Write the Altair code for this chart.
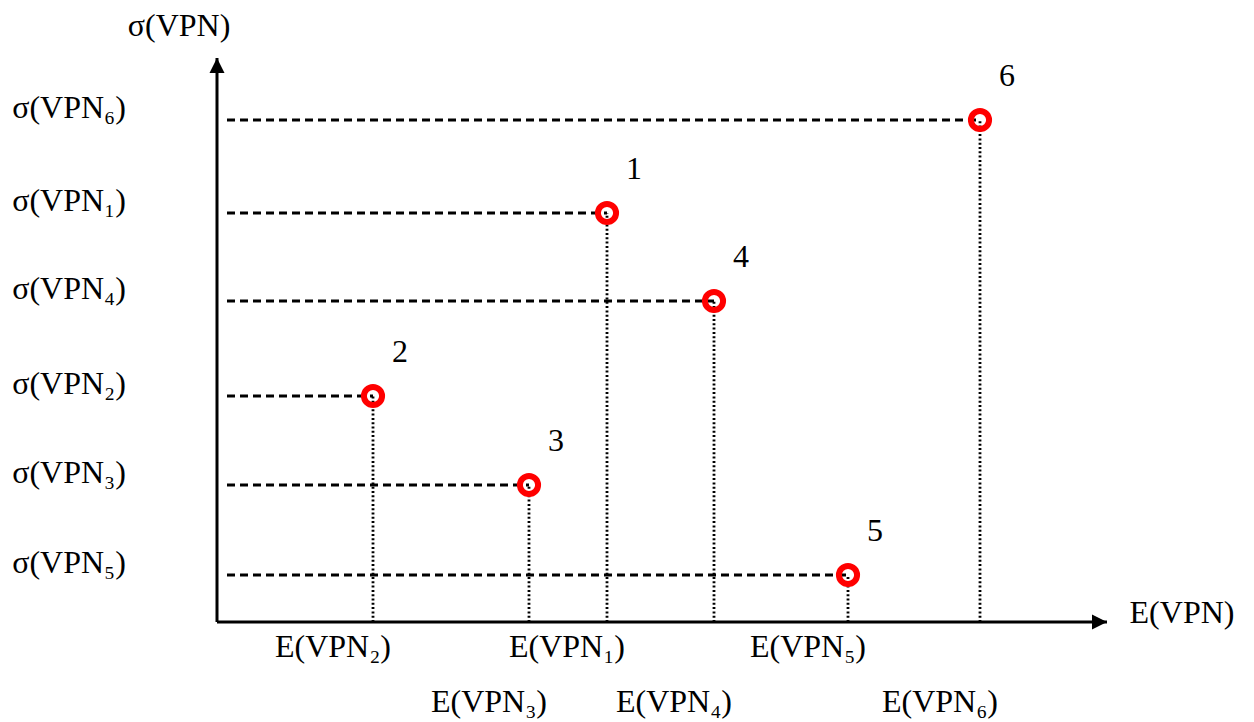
import altair as alt
import pandas as pd

# ---- data (arbitrary units) ----
point_ids = ["1", "2", "3", "4", "5", "6"]
e_values = [39.0, 15.6, 31.2, 49.7, 63.1, 76.3]      # E(VPN_i)
s_values = [40.9, 22.6, 13.7, 32.1, 4.7, 50.2]       # sigma(VPN_i)
e_labels = ["E(VPN₁)", "E(VPN₂)", "E(VPN₃)", "E(VPN₄)", "E(VPN₅)", "E(VPN₆)"]
s_labels = ["σ(VPN₁)", "σ(VPN₂)", "σ(VPN₃)", "σ(VPN₄)", "σ(VPN₅)", "σ(VPN₆)"]
x_axis_title = "E(VPN)"
y_axis_title = "σ(VPN)"
x_axis_end = 89.0
y_axis_end = 56.4
x_domain = [-20.9, 102.9]
y_domain = [-10.0, 61.4]

FONT = "Liberation Serif"
FS = 32

df = pd.DataFrame({"id": point_ids, "e": e_values, "s": s_values,
                   "el": e_labels, "sl": s_labels})
order = sorted(range(len(e_values)), key=lambda i: e_values[i])
rank = [0] * len(e_values)
for r, i in enumerate(order):
    rank[i] = r
df["row"] = [r % 2 for r in rank]
df["x0"] = 1.0
df["y0"] = 0.0

xs = alt.Scale(domain=x_domain, nice=False, zero=False)
ys = alt.Scale(domain=y_domain, nice=False, zero=False)
X = lambda f: alt.X(f, type="quantitative", scale=xs, axis=None)
Y = lambda f: alt.Y(f, type="quantitative", scale=ys, axis=None)

txt = dict(font=FONT, fontSize=FS, color="black", baseline="alphabetic", align="center")

base = alt.Chart(df)

dashed = base.mark_rule(color="black", strokeWidth=2.8, strokeDash=[8, 5]).encode(
    x=X("x0"), x2="e", y=Y("s"))
dotted = base.mark_rule(color="black", strokeWidth=2.8, strokeDash=[2, 2.3]).encode(
    x=X("e"), y=Y("y0"), y2="s")
pts = base.mark_point(shape="circle", filled=False, stroke="#ff0000",
                      strokeWidth=6, size=330, opacity=1).encode(x=X("e"), y=Y("s"))
nums = base.mark_text(dx=27, dy=-34, **txt).encode(
    x=X("e"), y=Y("s"), text="id")
ylabels = base.mark_text(dy=-2, **txt).encode(
    x=alt.value(61), y=Y("s"), text="sl")
xl0 = base.transform_filter("datum.row == 0").mark_text(dx=-40, dy=35, **txt).encode(
    x=X("e"), y=Y("y0"), text="el")
xl1 = base.transform_filter("datum.row == 1").mark_text(dx=-40, dy=90, **txt).encode(
    x=X("e"), y=Y("y0"), text="el")

axes_df = pd.DataFrame({"x": [0.0], "y": [0.0], "xe": [x_axis_end], "ye": [y_axis_end],
                        "xt": [x_axis_title], "yt": [y_axis_title]})
abase = alt.Chart(axes_df)
xaxis = abase.mark_rule(color="black", strokeWidth=3).encode(
    x=X("x"), x2="xe", y=Y("y"))
yaxis = abase.mark_rule(color="black", strokeWidth=3).encode(
    x=X("x"), y=Y("y"), y2="ye")
xarrow = abase.mark_point(shape="M0,0 L-1,-0.5 L-1,0.5 Z", size=900, filled=True,
                          color="black", opacity=1).encode(x=X("xe"), y=Y("y"))
yarrow = abase.mark_point(shape="M0,0 L-0.5,1 L0.5,1 Z", size=900, filled=True,
                          color="black", opacity=1).encode(x=X("x"), y=Y("ye"))
xtitle = abase.mark_text(dx=75, dy=1, **txt).encode(
    x=X("xe"), y=Y("y"), text="xt")
ytitle = abase.mark_text(dx=-38, dy=-22, **txt).encode(
    x=X("x"), y=Y("ye"), text="yt")

chart = alt.layer(dashed, dotted, xaxis, yaxis, xarrow, yarrow, pts, nums,
                  ylabels, xl0, xl1, xtitle, ytitle).properties(
    width=1238, height=714, autosize=alt.AutoSizeParams(type="none"), padding=0,
    background="white"
).configure_view(stroke=None)

chart.save("out.html", embed_options={"renderer": "svg", "actions": False})
